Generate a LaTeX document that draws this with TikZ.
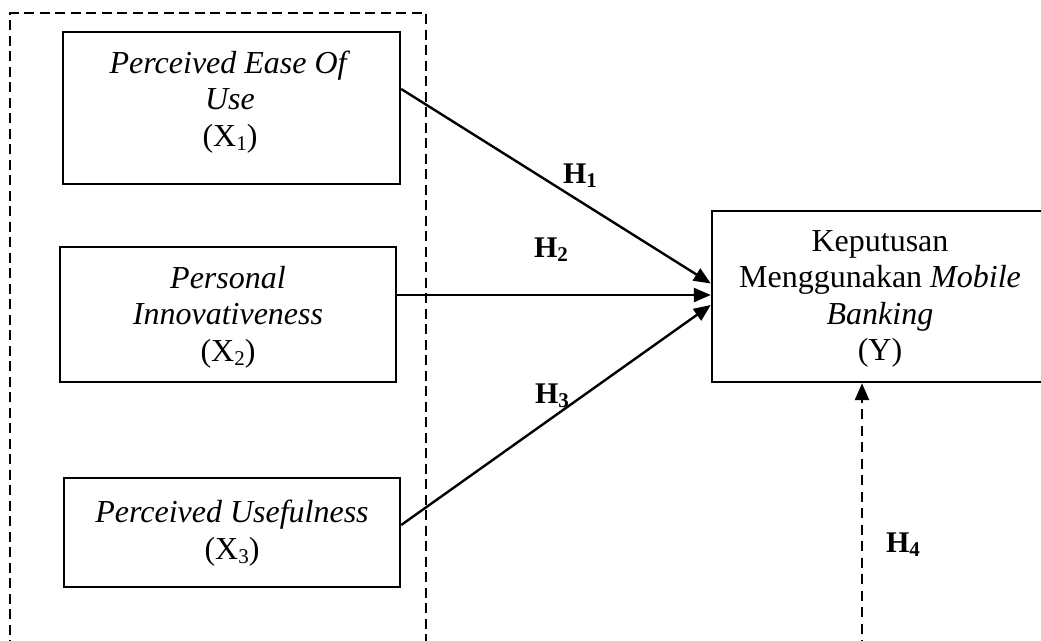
\documentclass[tikz,border=0pt]{standalone}
\usepackage{fontspec}
\setmainfont{Liberation Serif}
\usetikzlibrary{arrows.meta}
\newcommand\lsub[1]{\raisebox{-0.3ex}{\fontsize{21}{21}\selectfont #1}}
\begin{document}
\begin{tikzpicture}[x=1pt,y=-1pt,
  box/.style={draw,line width=2.4pt,inner sep=0pt,rectangle},
  txt/.style={align=center,inner sep=0pt,font=\fontsize{32}{36.5}\selectfont},
  hl/.style={inner sep=0pt,font=\fontsize{30}{30}\selectfont\bfseries},
  arr/.style={line width=2.4pt,-{Triangle[length=17pt,width=14pt]}},
  darr/.style={line width=2.6pt,dash pattern=on 10pt off 6.5pt,-{Triangle[length=17pt,width=14pt]}},
  frame/.style={line width=1.9pt,dash pattern=on 10pt off 5.5pt}]
\useasboundingbox (0,0) rectangle (1041,640);
% dashed group frame
\draw[frame] (10,650) -- (10,13) -- (426,13) -- (426,650);
% boxes
\node[box,minimum width=337pt,minimum height=152pt] (b1) at (231.5,108) {};
\node[txt] (t1) at (230,102) {\textit{Perceived Ease Of}\\\textit{Use}\\(X\lsub{1})};
\node[box,minimum width=336pt,minimum height=135pt] (b2) at (228,314.5) {};
\node[txt] (t2) at (228,317) {\textit{Personal}\\\textit{Innovativeness}\\(X\lsub{2})};
\node[box,minimum width=336pt,minimum height=109pt] (b3) at (232,532.5) {};
\node[txt] (t3) at (232,533) {\textit{Perceived Usefulness}\\(X\lsub{3})};
\node[box,minimum width=334pt,minimum height=171pt] (y) at (879,296.5) {};
\node[txt] (ty) at (880,299) {Keputusan\\Menggunakan \textit{Mobile}\\\textit{Banking}\\(Y)};
% connectors
\draw[arr] ([yshift=19pt]b1.east) -- ([yshift=13pt]y.west);
\draw[arr] ([yshift=19.5pt]b2.east) -- ([yshift=1.5pt]y.west);
\draw[arr] ([yshift=7.5pt]b3.east) -- ([yshift=-8.5pt]y.west);
\coordinate (h4s) at (862,650);
\draw[darr] (h4s) -- ([xshift=-17pt]y.south);
% labels
\node[hl] (h1) at (580,176) {H\lsub{1}};
\node[hl] (h2) at (551,250) {H\lsub{2}};
\node[hl] (h3) at (552,396) {H\lsub{3}};
\node[hl] (h4) at (903,545) {H\lsub{4}};
\end{tikzpicture}
\end{document}
